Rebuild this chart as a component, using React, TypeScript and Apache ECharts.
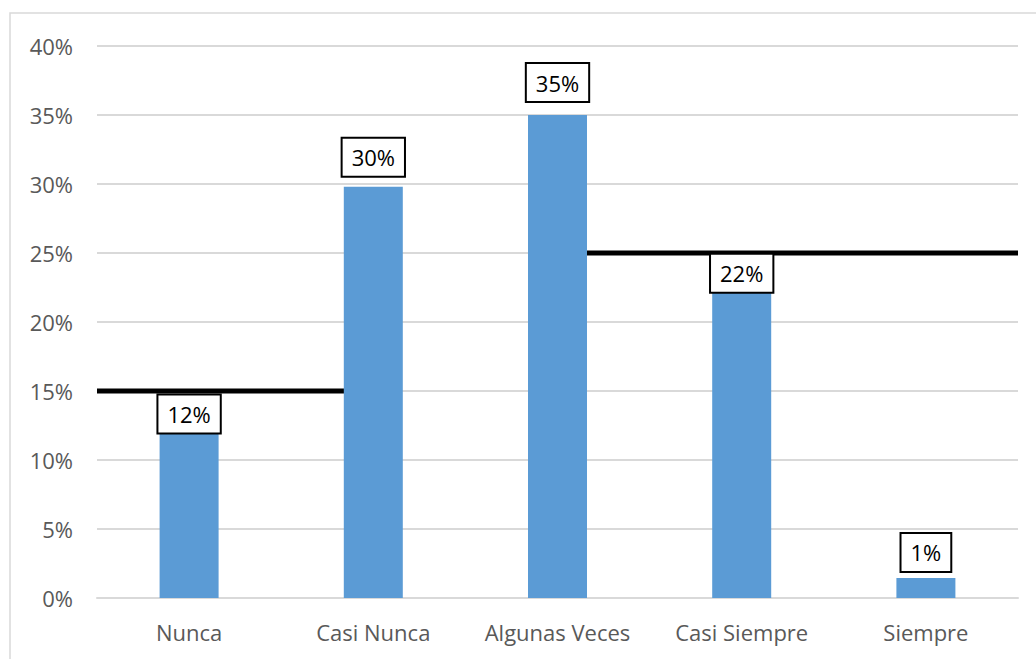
import React, { useEffect, useRef } from "react";
import * as echarts from "echarts";

// Categories and the share of answers per category
const categories = ["Nunca", "Casi Nunca", "Algunas Veces", "Casi Siempre", "Siempre"];
const shares = [0.12, 0.298, 0.35, 0.222, 0.0145];
// Gap between bar top and its value box, per category
const labelGaps = [-1, 10, 13, -1, 6];

// Reference levels: [start, end] in category units and the level value
const lowerLevelSpan = [0, 1.5];
const lowerLevel = 0.15;
const upperLevelSpan = [2.5, 5];
const upperLevel = 0.25;

const yTicks = { min: 0, max: 0.4, interval: 0.05 };

const FONT = "'Open Sans', 'Noto Sans', sans-serif";

export default function App() {
  const ref = useRef<HTMLDivElement>(null);

  useEffect(() => {
    document.body.style.margin = "0";
    if (!ref.current) return;
    const chart = echarts.init(ref.current, undefined, { renderer: "svg" });

    const pct = (v: number) => `${Math.round(v * 100)}%`;

    chart.setOption({
      animation: false,
      backgroundColor: "#ffffff",
      graphic: [
        {
          type: "rect",
          x: 10,
          y: 13,
          silent: true,
          z: -10,
          shape: { width: 1100, height: 700 },
          style: { fill: "none", stroke: "#d9d9d9", lineWidth: 1.5 },
        },
      ],
      grid: { left: 97, right: 18, top: 46, bottom: 61, containLabel: false },
      xAxis: [
        {
          type: "category",
          data: categories,
          axisLine: { show: true, lineStyle: { color: "#d9d9d9", width: 2 } },
          axisTick: { show: false },
          axisLabel: {
            color: "#595959",
            fontSize: 22,
            fontFamily: FONT,
            margin: 23,
            interval: 0,
            hideOverlap: false,
          },
        },
        {
          type: "value",
          min: 0,
          max: categories.length,
          show: false,
        },
      ],
      yAxis: {
        type: "value",
        min: yTicks.min,
        max: yTicks.max,
        interval: yTicks.interval,
        axisLine: { show: false },
        axisTick: { show: false },
        splitLine: { lineStyle: { color: "#d9d9d9", width: 2 } },
        axisLabel: {
          color: "#595959",
          fontSize: 22,
          fontFamily: FONT,
          margin: 24,
          formatter: (v: number) => pct(v),
        },
      },
      series: [
        {
          type: "line",
          xAxisIndex: 1,
          z: 1,
          symbol: "none",
          lineStyle: { color: "#000000", width: 5 },
          data: lowerLevelSpan.map((x) => [x, lowerLevel]),
        },
        {
          type: "line",
          xAxisIndex: 1,
          z: 1,
          symbol: "none",
          lineStyle: { color: "#000000", width: 5 },
          data: upperLevelSpan.map((x) => [x, upperLevel]),
        },
        {
          type: "bar",
          xAxisIndex: 0,
          z: 3,
          barWidth: 59,
          itemStyle: { color: "#5b9bd5" },
          data: shares.map((v, i) => ({
            value: v,
            label: { distance: labelGaps[i] + 1 },
          })),
          label: {
            show: true,
            position: "top",
            formatter: (p: any) => pct(p.value),
            color: "#000000",
            fontSize: 22,
            fontFamily: FONT,
            lineHeight: 23,
            backgroundColor: "#ffffff",
            borderColor: "#000000",
            borderWidth: 2,
            padding: [7, 9, 7, 9],
          },
        },
      ],
    });

    return () => chart.dispose();
  }, []);

  return <div ref={ref} style={{ width: 1036, height: 659 }} />;
}
